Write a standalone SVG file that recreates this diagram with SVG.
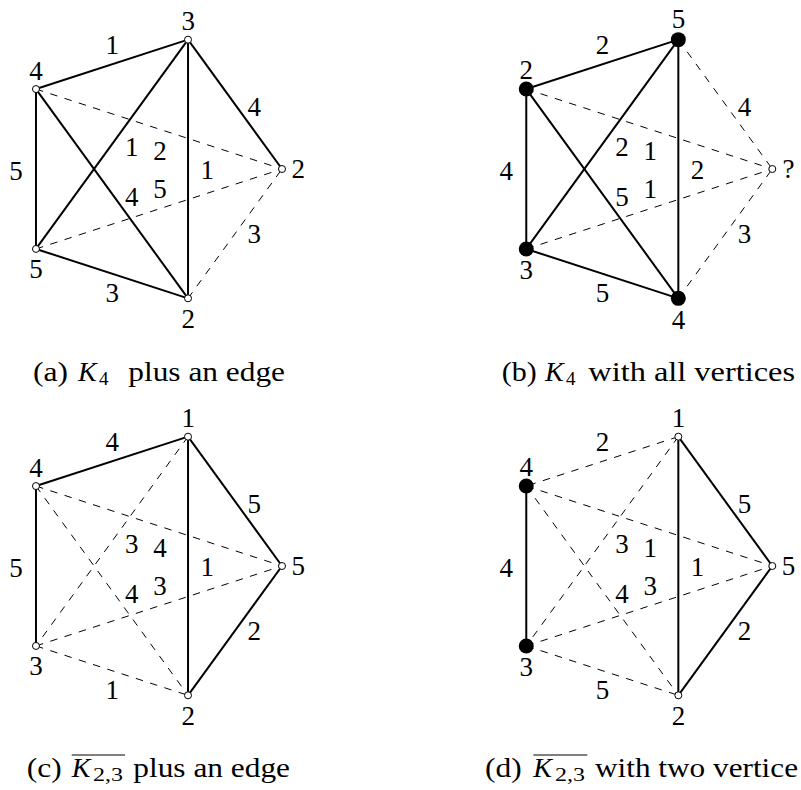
<svg xmlns="http://www.w3.org/2000/svg" width="801" height="790" viewBox="0 0 801 790">
<style>
.s{stroke:#000;stroke-width:2;fill:none}
.d{stroke:#000;stroke-width:1;stroke-dasharray:7.5 7.5;fill:none}
.o{fill:#fff;stroke:#000;stroke-width:1}
.f{fill:#000}
.t{font-size:27px;text-anchor:middle}
.c{font-size:28px}
.ci{font-size:28px;font-style:italic}
.cs{font-size:19px}
.ov{stroke:#000;stroke-width:1}
</style>
<rect width="801" height="790" fill="#fff"/>
<g font-family="Liberation Serif, DejaVu Serif, serif" fill="#000">

<!-- Panel a -->
<g id="panel-a" transform="translate(146,169)">
<g id="a-connectors">
<line class="s" x1="42.03" y1="-129.34" x2="-110.03" y2="-79.94"/>
<line class="s" x1="42.03" y1="-129.34" x2="136" y2="0"/>
<line class="s" x1="-110.03" y1="-79.94" x2="-110.03" y2="79.94"/>
<line class="s" x1="-110.03" y1="79.94" x2="42.03" y2="129.34"/>
<line class="d" x1="42.03" y1="129.34" x2="136" y2="0"/>
<line class="s" x1="42.03" y1="-129.34" x2="42.03" y2="129.34"/>
<line class="s" x1="42.03" y1="-129.34" x2="-110.03" y2="79.94"/>
<line class="s" x1="-110.03" y1="-79.94" x2="42.03" y2="129.34"/>
<line class="d" x1="-110.03" y1="-79.94" x2="136" y2="0"/>
<line class="d" x1="-110.03" y1="79.94" x2="136" y2="0"/>
<text class="t" x="-33.7" y="-115">1</text>
<text class="t" x="108.3" y="-53.3">4</text>
<text class="t" x="-130" y="10.7">5</text>
<text class="t" x="-33.7" y="133.3">3</text>
<text class="t" x="108.3" y="74">3</text>
<text class="t" x="-14.3" y="-13">1</text>
<text class="t" x="14" y="-9">2</text>
<text class="t" x="61.3" y="10.3">1</text>
<text class="t" x="-14.3" y="36.7">4</text>
<text class="t" x="14" y="29">5</text>
</g>
<g id="a-top"><circle class="o" cx="42.03" cy="-129.34" r="3.5"/><text class="t" x="42.3" y="-139.2">3</text></g>
<g id="a-upperleft"><circle class="o" cx="-110.03" cy="-79.94" r="3.5"/><text class="t" x="-110" y="-89.5">4</text></g>
<g id="a-right"><circle class="o" cx="136" cy="0" r="3.5"/><text class="t" x="152.3" y="9">2</text></g>
<g id="a-lowerleft"><circle class="o" cx="-110.03" cy="79.94" r="3.5"/><text class="t" x="-110" y="109">5</text></g>
<g id="a-bottom"><circle class="o" cx="42.03" cy="129.34" r="3.5"/><text class="t" x="42.3" y="159">2</text></g>
</g>

<!-- Panel b -->
<g id="panel-b" transform="translate(636.3,169)">
<g id="b-connectors">
<line class="s" x1="42.03" y1="-129.34" x2="-110.03" y2="-79.94"/>
<line class="d" x1="42.03" y1="-129.34" x2="136" y2="0"/>
<line class="s" x1="-110.03" y1="-79.94" x2="-110.03" y2="79.94"/>
<line class="s" x1="-110.03" y1="79.94" x2="42.03" y2="129.34"/>
<line class="d" x1="42.03" y1="129.34" x2="136" y2="0"/>
<line class="s" x1="42.03" y1="-129.34" x2="42.03" y2="129.34"/>
<line class="s" x1="42.03" y1="-129.34" x2="-110.03" y2="79.94"/>
<line class="s" x1="-110.03" y1="-79.94" x2="42.03" y2="129.34"/>
<line class="d" x1="-110.03" y1="-79.94" x2="136" y2="0"/>
<line class="d" x1="-110.03" y1="79.94" x2="136" y2="0"/>
<text class="t" x="-33.7" y="-115">2</text>
<text class="t" x="108.3" y="-53.3">4</text>
<text class="t" x="-130" y="10.7">4</text>
<text class="t" x="-33.7" y="133.3">5</text>
<text class="t" x="108.3" y="74">3</text>
<text class="t" x="-14.3" y="-13">2</text>
<text class="t" x="14" y="-9">1</text>
<text class="t" x="61.3" y="10.3">2</text>
<text class="t" x="-14.3" y="36.7">5</text>
<text class="t" x="14" y="29">1</text>
</g>
<g id="b-top"><circle class="f" cx="42.03" cy="-129.34" r="7.5"/><text class="t" x="42.3" y="-141.5">5</text></g>
<g id="b-upperleft"><circle class="f" cx="-110.03" cy="-79.94" r="7.5"/><text class="t" x="-110" y="-90.5">2</text></g>
<g id="b-right"><circle class="o" cx="136" cy="0" r="3.5"/><text class="t" x="152.3" y="9">?</text></g>
<g id="b-lowerleft"><circle class="f" cx="-110.03" cy="79.94" r="7.5"/><text class="t" x="-110" y="110">3</text></g>
<g id="b-bottom"><circle class="f" cx="42.03" cy="129.34" r="7.5"/><text class="t" x="42.3" y="160">4</text></g>
</g>

<!-- Panel c -->
<g id="panel-c" transform="translate(146,566)">
<g id="c-connectors">
<line class="s" x1="42.03" y1="-129.34" x2="-110.03" y2="-79.94"/>
<line class="s" x1="42.03" y1="-129.34" x2="136" y2="0"/>
<line class="s" x1="-110.03" y1="-79.94" x2="-110.03" y2="79.94"/>
<line class="d" x1="-110.03" y1="79.94" x2="42.03" y2="129.34"/>
<line class="s" x1="42.03" y1="129.34" x2="136" y2="0"/>
<line class="s" x1="42.03" y1="-129.34" x2="42.03" y2="129.34"/>
<line class="d" x1="42.03" y1="-129.34" x2="-110.03" y2="79.94"/>
<line class="d" x1="-110.03" y1="-79.94" x2="42.03" y2="129.34"/>
<line class="d" x1="-110.03" y1="-79.94" x2="136" y2="0"/>
<line class="d" x1="-110.03" y1="79.94" x2="136" y2="0"/>
<text class="t" x="-33.7" y="-115">4</text>
<text class="t" x="108.3" y="-53.3">5</text>
<text class="t" x="-130" y="10.7">5</text>
<text class="t" x="-33.7" y="133.3">1</text>
<text class="t" x="108.3" y="74">2</text>
<text class="t" x="-14.3" y="-13">3</text>
<text class="t" x="14" y="-9">4</text>
<text class="t" x="61.3" y="10.3">1</text>
<text class="t" x="-14.3" y="36.7">4</text>
<text class="t" x="14" y="29">3</text>
</g>
<g id="c-top"><circle class="o" cx="42.03" cy="-129.34" r="3.5"/><text class="t" x="42.3" y="-139.2">1</text></g>
<g id="c-upperleft"><circle class="o" cx="-110.03" cy="-79.94" r="3.5"/><text class="t" x="-110" y="-89.5">4</text></g>
<g id="c-right"><circle class="o" cx="136" cy="0" r="3.5"/><text class="t" x="152.3" y="9">5</text></g>
<g id="c-lowerleft"><circle class="o" cx="-110.03" cy="79.94" r="3.5"/><text class="t" x="-110" y="109">3</text></g>
<g id="c-bottom"><circle class="o" cx="42.03" cy="129.34" r="3.5"/><text class="t" x="42.3" y="159">2</text></g>
</g>

<!-- Panel d -->
<g id="panel-d" transform="translate(636.3,566)">
<g id="d-connectors">
<line class="d" x1="42.03" y1="-129.34" x2="-110.03" y2="-79.94"/>
<line class="s" x1="42.03" y1="-129.34" x2="136" y2="0"/>
<line class="s" x1="-110.03" y1="-79.94" x2="-110.03" y2="79.94"/>
<line class="d" x1="-110.03" y1="79.94" x2="42.03" y2="129.34"/>
<line class="s" x1="42.03" y1="129.34" x2="136" y2="0"/>
<line class="s" x1="42.03" y1="-129.34" x2="42.03" y2="129.34"/>
<line class="d" x1="42.03" y1="-129.34" x2="-110.03" y2="79.94"/>
<line class="d" x1="-110.03" y1="-79.94" x2="42.03" y2="129.34"/>
<line class="d" x1="-110.03" y1="-79.94" x2="136" y2="0"/>
<line class="d" x1="-110.03" y1="79.94" x2="136" y2="0"/>
<text class="t" x="-33.7" y="-115">2</text>
<text class="t" x="108.3" y="-53.3">5</text>
<text class="t" x="-130" y="10.7">4</text>
<text class="t" x="-33.7" y="133.3">5</text>
<text class="t" x="108.3" y="74">2</text>
<text class="t" x="-14.3" y="-13">3</text>
<text class="t" x="14" y="-9">1</text>
<text class="t" x="61.3" y="10.3">1</text>
<text class="t" x="-14.3" y="36.7">4</text>
<text class="t" x="14" y="29">3</text>
</g>
<g id="d-top"><circle class="o" cx="42.03" cy="-129.34" r="3.5"/><text class="t" x="42.3" y="-139.2">1</text></g>
<g id="d-upperleft"><circle class="f" cx="-110.03" cy="-79.94" r="7.5"/><text class="t" x="-110" y="-90.5">4</text></g>
<g id="d-right"><circle class="o" cx="136" cy="0" r="3.5"/><text class="t" x="152.3" y="9">5</text></g>
<g id="d-lowerleft"><circle class="f" cx="-110.03" cy="79.94" r="7.5"/><text class="t" x="-110" y="110">3</text></g>
<g id="d-bottom"><circle class="o" cx="42.03" cy="129.34" r="3.5"/><text class="t" x="42.3" y="159">2</text></g>
</g>

<!-- Captions -->
<g id="caption-a">
<text class="c" x="33" y="381" textLength="35" lengthAdjust="spacingAndGlyphs">(a)</text>
<text class="ci" x="78" y="381">K</text>
<text class="cs" x="99" y="385">4</text>
<text class="c" x="128.3" y="381" textLength="156.7" lengthAdjust="spacingAndGlyphs">plus an edge</text>
</g>
<g id="caption-b">
<text class="c" x="501.7" y="381" textLength="35" lengthAdjust="spacingAndGlyphs">(b)</text>
<text class="ci" x="545" y="381">K</text>
<text class="cs" x="566" y="385">4</text>
<text class="c" x="588.3" y="381" textLength="206.7" lengthAdjust="spacingAndGlyphs">with all vertices</text>
</g>
<g id="caption-c">
<text class="c" x="26.7" y="777" textLength="35" lengthAdjust="spacingAndGlyphs">(c)</text>
<line class="ov" x1="71.7" y1="755" x2="125" y2="755"/>
<text class="ci" x="71.7" y="777">K</text>
<text class="cs" x="93" y="781" textLength="30" lengthAdjust="spacingAndGlyphs">2,3</text>
<text class="c" x="133.3" y="777" textLength="156.7" lengthAdjust="spacingAndGlyphs">plus an edge</text>
</g>
<g id="caption-d">
<text class="c" x="485" y="777" textLength="36.7" lengthAdjust="spacingAndGlyphs">(d)</text>
<line class="ov" x1="533.3" y1="755" x2="587.3" y2="755"/>
<text class="ci" x="533.3" y="777">K</text>
<text class="cs" x="555" y="781" textLength="30" lengthAdjust="spacingAndGlyphs">2,3</text>
<text class="c" x="595" y="777" textLength="203" lengthAdjust="spacingAndGlyphs">with two vertice</text>
</g>
</g>
</svg>
